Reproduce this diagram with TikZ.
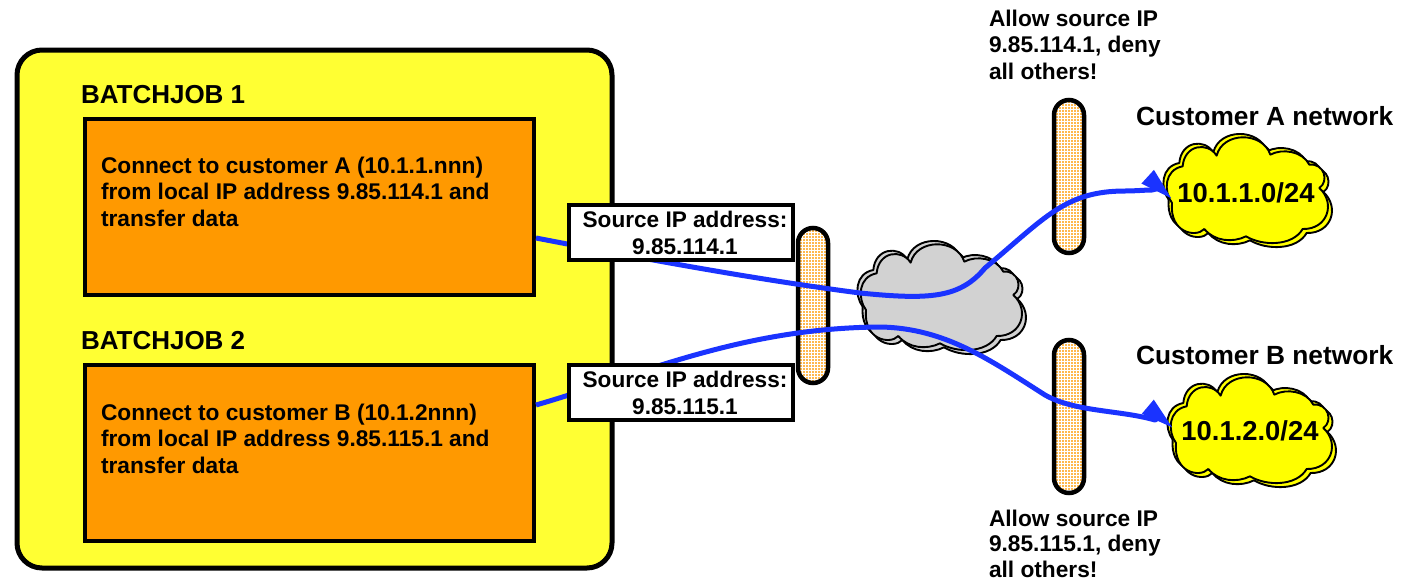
\documentclass[tikz,border=0pt]{standalone}
\usepackage{fontspec}
\setmainfont{Liberation Sans}
\usetikzlibrary{arrows.meta}
\definecolor{panelyellow}{HTML}{FFFF33}
\definecolor{cloudyellow}{HTML}{FFFF00}
\definecolor{joborange}{HTML}{FF9900}
\definecolor{pillorange}{HTML}{FFB84D}
\definecolor{cloudgray}{HTML}{D2D2D2}
\definecolor{linkblue}{HTML}{1A33FF}
\newcommand{\cloudoutline}{(258,300) .. controls (232,265) and (235,200) .. (290,190)
 .. controls (295,125) and (365,115) .. (392,158)
 .. controls (410,85) and (530,85) .. (553,155)
 .. controls (590,135) and (650,145) .. (670,185)
 .. controls (715,180) and (730,235) .. (700,255)
 .. controls (750,300) and (725,380) .. (650,378)
 .. controls (620,430) and (530,430) .. (480,400)
 .. controls (440,420) and (385,415) .. (355,378)
 .. controls (330,405) and (250,390) .. (258,300) -- cycle}
\newcommand{\cloudstack}[3]{%
 \begin{scope}[shift={(#1,#2)},x=0.3333pt,y=-0.3333pt,draw=black,fill=#3,line width=1.9pt,line join=round]
  \filldraw[shift={(12,12)}] \cloudoutline;
  \filldraw[shift={(-10,-10)}] \cloudoutline;
  \filldraw \cloudoutline;
 \end{scope}}
\tikzset{
 label text/.style={font=\fontsize{22.7}{26.5}\selectfont\bfseries,text=black,inner sep=0pt,outer sep=0pt},
 jobbox/.style={draw=black,fill=joborange,line width=4pt,minimum width=449pt,minimum height=176pt,anchor=north west,inner sep=0pt,outer sep=0pt},
 srcbox/.style={draw=black,fill=white,line width=4pt,minimum width=224pt,minimum height=55pt,anchor=north west,inner sep=0pt,outer sep=0pt},
 srctext/.style={align=center,inner sep=0pt,outer sep=0pt,font=\fontsize{22.6}{27}\selectfont\bfseries},
 pill/.style={draw=black,line width=4.5pt,rounded corners=15pt,minimum width=30pt,anchor=north west,inner sep=0pt,outer sep=0pt,fill=pillorange,
  path picture={\foreach \k in {-200,-197,...,200}{\draw[white,line width=0.7pt] ([xshift=\k pt]path picture bounding box.center) ++(0,-100) -- ++(0,200);\draw[white,line width=0.7pt] ([yshift=\k pt]path picture bounding box.center) ++(-30,0) -- ++(60,0);}}},
 link/.style={draw=linkblue,line width=5pt,line join=round},
}
\begin{document}
\begin{tikzpicture}[x=1pt,y=-1pt]
\useasboundingbox (0,0) rectangle (1414,579);
\fill[white] (0,0) rectangle (1414,579);
\draw[black,fill=panelyellow,line width=5pt,rounded corners=25pt] (17,50) rectangle (612,568);
\node[label text,anchor=base west,font=\fontsize{26}{30}\selectfont\bfseries] (job1title) at (81,103) {BATCHJOB 1};
\node[label text,anchor=base west,font=\fontsize{26}{30}\selectfont\bfseries] (job2title) at (81,349) {BATCHJOB 2};
\node[jobbox] (job1) at (85,119) {};
\node[jobbox] (job2) at (85,365) {};
\node[label text,anchor=north west,align=left] (job1text) at (101,157) {Connect to customer A (10.1.1.nnn)\\from local IP address 9.85.114.1 and\\transfer data};
\node[label text,anchor=north west,align=left] (job2text) at (101,404) {Connect to customer B (10.1.2nnn)\\from local IP address 9.85.115.1 and\\transfer data};
\node[pill,minimum height=155pt] (fw0) at (798,228) {};
\node[pill,minimum height=153pt] (fw1) at (1054,100) {};
\node[pill,minimum height=153pt] (fw2) at (1054,340) {};
\cloudstack{780}{210}{cloudgray}
\cloudstack{1086}{103}{cloudyellow}
\cloudstack{1090}{343}{cloudyellow}
\node[label text,font=\fontsize{27.4}{30}\selectfont\bfseries] (netA) at (1246,193) {10.1.1.0/24};
\node[label text,font=\fontsize{27.4}{30}\selectfont\bfseries] (netB) at (1250,431) {10.1.2.0/24};
\coordinate (toA) at (1172,199);
\coordinate (toB) at (1173,428);
\draw[link,-{Triangle[length=33pt,width=17pt]}] (job1.east) ++(2,31) coordinate (fromA)
  .. controls (650,260) and (760,280) .. (860,293)
  .. controls (930,300) and (960,298) .. (985,268)
  .. controls (1045,218) and (1065,191) .. (1125,191)
  .. controls (1135,191) and (1145,190) .. (1152,190) -- (1160,188) -- (toA);
\draw[link,-{Triangle[length=33pt,width=17pt]}] (job2.east) ++(2,-48) coordinate (fromB)
  .. controls (640,375) and (740,328) .. (880,327)
  .. controls (945,328) and (990,360) .. (1045,395)
  .. controls (1075,412) and (1120,410) .. (1155,420) -- (1160,417) -- (toB);
\node[srcbox] (src1) at (569,205) {};
\node[srcbox] (src2) at (569,365) {};
\node[srctext] (src1text) at ([xshift=4pt]src1.center) {Source IP address:\\9.85.114.1};
\node[srctext] (src2text) at ([xshift=4pt]src2.center) {Source IP address:\\9.85.115.1};
\node[label text,anchor=north west,align=left] (ruleA) at (989,10) {Allow source IP\\9.85.114.1, deny\\all others!};
\node[label text,anchor=north west,align=left,font=\fontsize{22.7}{25.5}\selectfont\bfseries] (ruleB) at (989,510) {Allow source IP\\9.85.115.1, deny\\all others!};
\node[label text,anchor=base west,font=\fontsize{26.3}{30}\selectfont\bfseries] (custA) at (1136,125) {Customer A network};
\node[label text,anchor=base west,font=\fontsize{26.3}{30}\selectfont\bfseries] (custB) at (1136,364) {Customer B network};
\end{tikzpicture}
\end{document}
